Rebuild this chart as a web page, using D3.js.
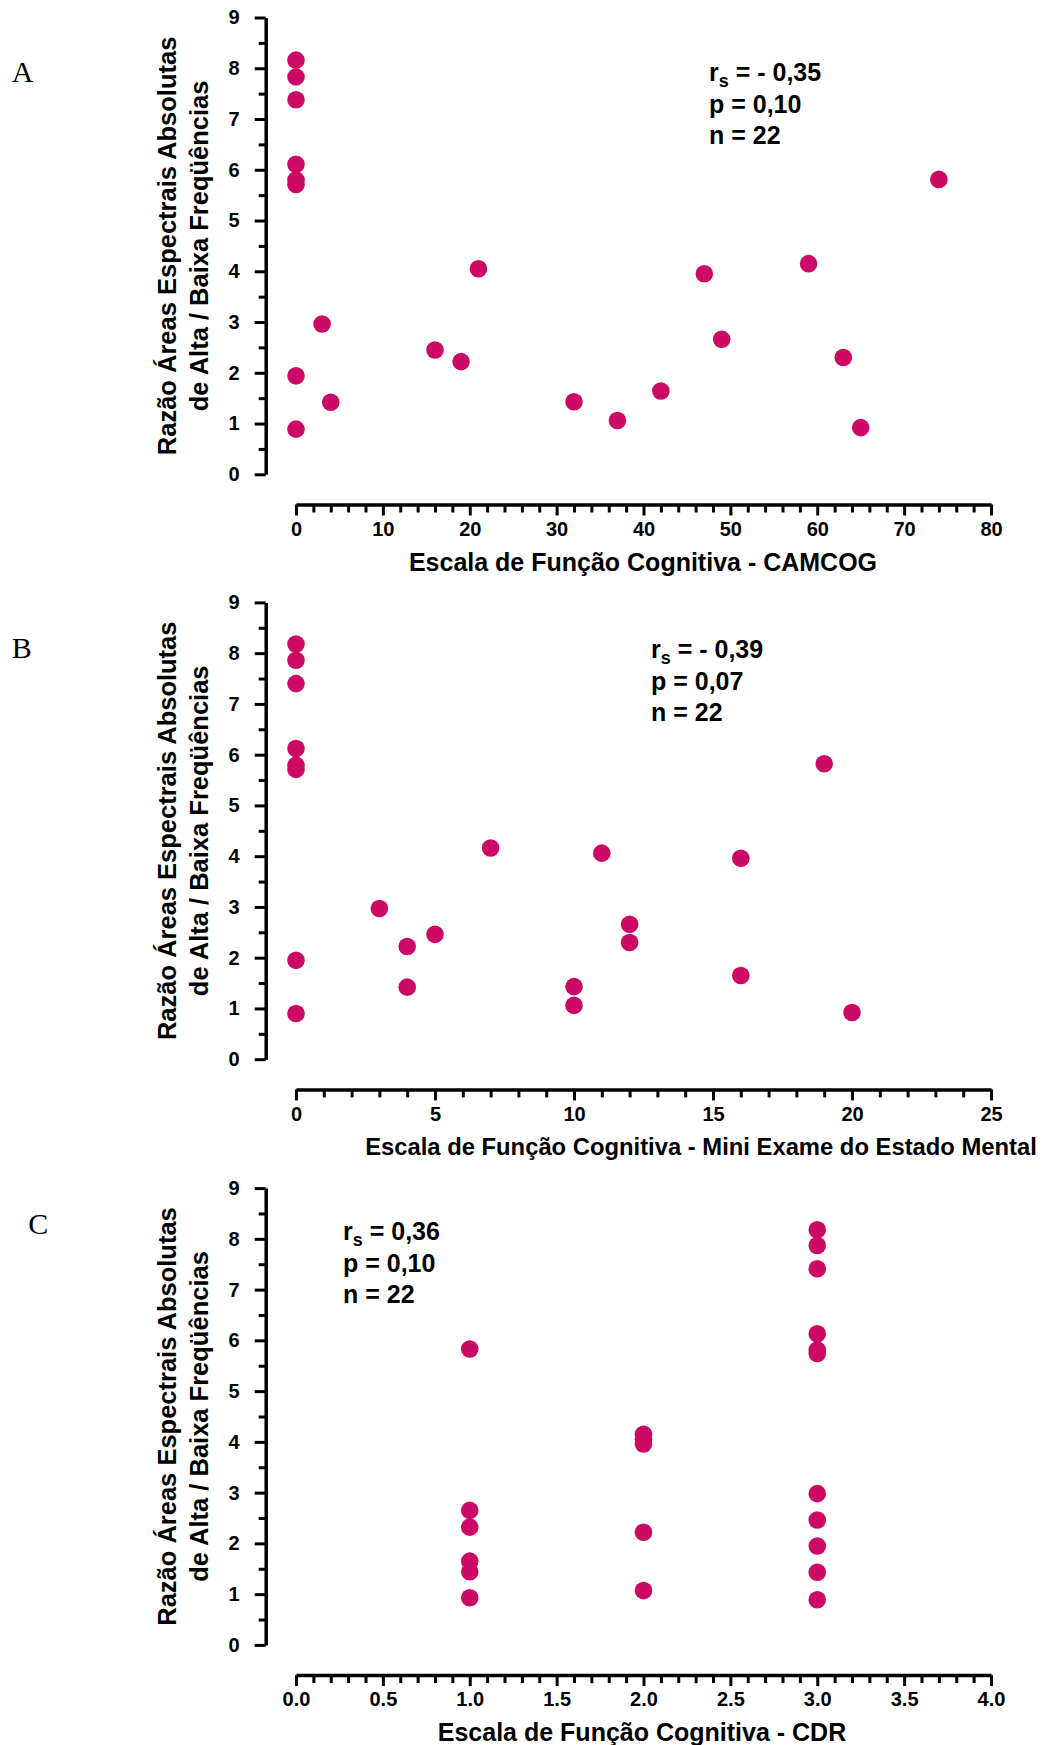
<!DOCTYPE html>
<html>
<head>
<meta charset="utf-8">
<script src="https://cdn.jsdelivr.net/npm/d3@7"></script>
<style>
  body { margin: 0; background: #fff; }
  svg { display: block; }
  .axis text { font-family: "Liberation Sans", Arial, sans-serif; font-weight: bold; font-size: 20px; fill: #000; }
  .axis path { stroke: #000; stroke-width: 3.5; }
  .axis line { stroke: #000; stroke-width: 3; }
  .title { font-family: "Liberation Sans", Arial, sans-serif; font-weight: bold; fill: #000; }
  .letter { font-family: "Liberation Serif", "Times New Roman", serif; font-size: 30px; fill: #000; }
</style>
</head>
<body>
<div id="chart"></div>
<script>
// y values (ratio of high / low frequency spectral areas), same 22 patients in each panel
const yTicks = [0, 1, 2, 3, 4, 5, 6, 7, 8, 9];

const camcogX = [0, 0, 0, 0, 0, 0, 0, 0, 3, 4, 16, 19, 21, 32, 37, 42, 47, 49, 59, 63, 65, 74];
const camcogY = [8.16, 7.83, 7.38, 6.11, 5.80, 5.71, 1.94, 0.89, 2.96, 1.42, 2.45, 2.22, 4.05, 1.43, 1.06, 1.64, 3.95, 2.66, 4.15, 2.30, 0.92, 5.81];
const camcogTicks = [0, 10, 20, 30, 40, 50, 60, 70, 80];

const meemX = [0, 0, 0, 0, 0, 0, 0, 0, 3, 4, 4, 5, 7, 10, 10, 11, 12, 12, 16, 16, 19, 20];
const meemY = [8.18, 7.86, 7.40, 6.12, 5.79, 5.71, 1.95, 0.90, 2.97, 2.22, 1.42, 2.46, 4.16, 1.43, 1.06, 4.06, 2.66, 2.30, 3.96, 1.65, 5.82, 0.92];
const meemTicks = [0, 5, 10, 15, 20, 25];

const cdrX = [1, 1, 1, 1, 1, 1, 2, 2, 2, 2, 2, 3, 3, 3, 3, 3, 3, 3, 3, 3, 3, 3];
const cdrY = [5.83, 2.65, 2.32, 1.65, 1.44, 0.93, 4.15, 4.05, 3.96, 2.22, 1.07, 8.18, 7.87, 7.41, 6.13, 5.81, 5.74, 2.98, 2.46, 1.95, 1.43, 0.89];
const cdrTicks = [0, 0.5, 1, 1.5, 2, 2.5, 3, 3.5, 4];

const letters = ['A', 'B', 'C'];
const xTitles = [
  'Escala de Função Cognitiva - CAMCOG',
  'Escala de Função Cognitiva - Mini Exame do Estado Mental',
  'Escala de Função Cognitiva - CDR'
];
const yTitle = ['Razão Áreas Espectrais Absolutas', 'de Alta / Baixa Freqüências'];
const rsValues = ['- 0,35', '- 0,39', '0,36'];
const pValues = ['0,10', '0,07', '0,10'];
const nValues = ['22', '22', '22'];

const color = '#cc0a66';

const svg = d3.select('#chart').append('svg')
  .attr('width', 1042)
  .attr('height', 1745);

svg.append('rect').attr('width', 1042).attr('height', 1745).attr('fill', '#fff');

// layout of each panel (top of y axis, where the stats block and letter sit)
const panels = [
  { top: 17.5, xs: camcogX, ys: camcogY, ticks: camcogTicks, minor: 2, fmt: d3.format('d'),
    statX: 709, statY: 81, letterX: 11.7, letterY: 81.5, xTitleX: 643, xTitleSize: 25 },
  { top: 602.4, xs: meemX, ys: meemY, ticks: meemTicks, minor: 1, fmt: d3.format('d'),
    statX: 651, statY: 657.5, letterX: 11.7, letterY: 658, xTitleX: 701, xTitleSize: 23.8 },
  { top: 1188.1, xs: cdrX, ys: cdrY, ticks: cdrTicks, minor: 0.1, fmt: d3.format('.1f'),
    statX: 343, statY: 1239.5, letterX: 28.3, letterY: 1234, xTitleX: 642, xTitleSize: 25 }
];

panels.forEach((p, i) => {
  const bottom = p.top + 456.8;
  const xAxisY = p.top + 487;
  const x0 = 296, x1 = 991, yAxisX = 265.7;

  const x = d3.scaleLinear()
    .domain([p.ticks[0], p.ticks[p.ticks.length - 1]])
    .range([x0, x1]);
  const y = d3.scaleLinear()
    .domain([0, 9])
    .range([bottom, p.top]);

  const g = svg.append('g');

  // minor ticks
  const yMinor = d3.range(0.5, 9, 1);
  g.append('g')
    .attr('class', 'axis')
    .attr('transform', `translate(${yAxisX},0)`)
    .call(d3.axisLeft(y).tickValues(yMinor).tickSize(7).tickSizeOuter(0).tickFormat(''))
    .select('.domain').remove();

  const lo = p.ticks[0], hi = p.ticks[p.ticks.length - 1];
  const xMinor = d3.range(Math.round((hi - lo) / p.minor) + 1)
    .map(k => lo + k * p.minor)
    .filter(v => !p.ticks.some(t => Math.abs(t - v) < 1e-6));
  g.append('g')
    .attr('class', 'axis')
    .attr('transform', `translate(0,${xAxisY})`)
    .call(d3.axisBottom(x).tickValues(xMinor).tickSize(8).tickSizeOuter(0).tickFormat(''))
    .select('.domain').remove();

  // major axes
  g.append('g')
    .attr('class', 'axis')
    .attr('transform', `translate(${yAxisX},0)`)
    .call(d3.axisLeft(y).tickValues(yTicks).tickSize(11).tickSizeOuter(0).tickPadding(15));

  g.append('g')
    .attr('class', 'axis')
    .attr('transform', `translate(0,${xAxisY})`)
    .call(d3.axisBottom(x).tickValues(p.ticks).tickSize(11).tickSizeOuter(0).tickPadding(6).tickFormat(p.fmt));

  // axis titles
  g.append('text')
    .attr('class', 'title')
    .attr('x', p.xTitleX)
    .attr('y', xAxisY + 66)
    .attr('text-anchor', 'middle')
    .style('font-size', p.xTitleSize + 'px')
    .text(xTitles[i]);

  const yc = (p.top + bottom) / 2;
  yTitle.forEach((line, j) => {
    g.append('text')
      .attr('class', 'title')
      .attr('transform', `translate(${176 + j * 32},${yc}) rotate(-90)`)
      .attr('text-anchor', 'middle')
      .style('font-size', '25.5px')
      .text(line);
  });

  // points
  g.selectAll('circle')
    .data(p.xs.map((v, k) => [v, p.ys[k]]))
    .enter().append('circle')
    .attr('cx', d => x(d[0]))
    .attr('cy', d => y(d[1]))
    .attr('r', 8.8)
    .attr('fill', color);

  // stats block
  const st = g.append('g').attr('class', 'title').style('font-size', '25px');
  const t1 = st.append('text').attr('x', p.statX).attr('y', p.statY);
  t1.append('tspan').text('r');
  t1.append('tspan').attr('dy', 6).style('font-size', '18px').text('s');
  t1.append('tspan').attr('dy', -6).text(' = ' + rsValues[i]);
  st.append('text').attr('x', p.statX).attr('y', p.statY + 32).text('p = ' + pValues[i]);
  st.append('text').attr('x', p.statX).attr('y', p.statY + 63).text('n = ' + nValues[i]);

  // panel letter
  svg.append('text')
    .attr('class', 'letter')
    .attr('x', p.letterX)
    .attr('y', p.letterY)
    .text(letters[i]);
});
</script>
</body>
</html>
